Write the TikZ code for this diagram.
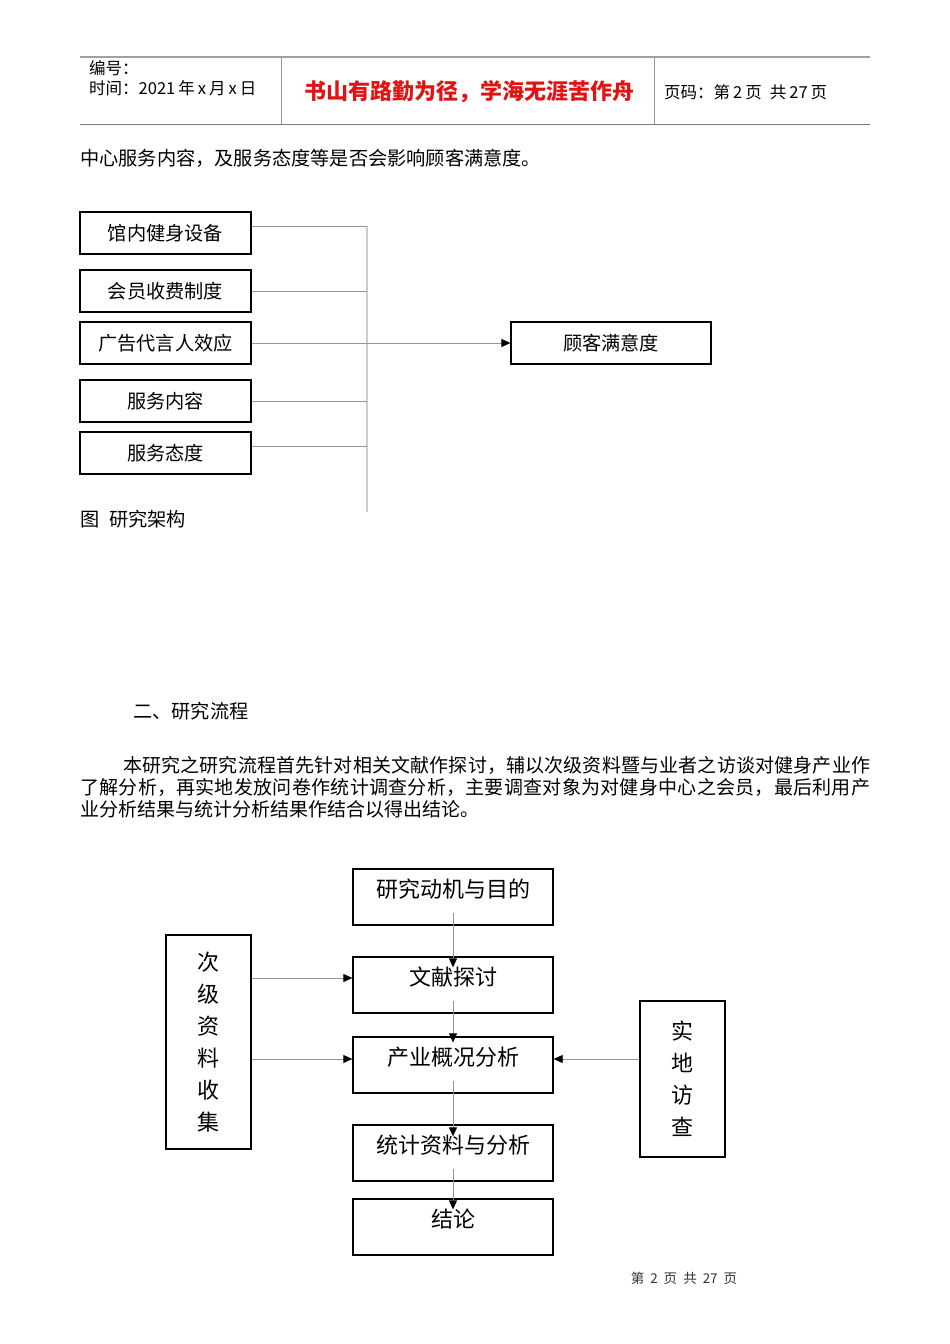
\documentclass[tikz,border=0pt]{standalone}
\usepackage{fontspec}
\setmainfont{Noto Sans CJK SC}
\usepackage{tikz}
\usetikzlibrary{arrows.meta, positioning}
\XeTeXlinebreaklocale "zh"
\XeTeXlinebreakskip=0pt plus 1pt
\definecolor{mottored}{RGB}{225,20,20}
\definecolor{wiregray}{RGB}{150,150,150}
\definecolor{busgray}{RGB}{205,205,205}
\definecolor{rulegray}{RGB}{120,120,120}

\tikzset{
  bodytext/.style={inner sep=0pt,font=\fontsize{19.2}{22}\selectfont},
  headtext/.style={inner sep=0pt,anchor=west,font=\fontsize{16.5}{18}\selectfont},
  factorbox/.style={rectangle,draw=black,line width=1.3pt,minimum width=171pt,minimum height=42pt,inner sep=0pt,font=\fontsize{19.2}{22}\selectfont},
  flowbox/.style={rectangle,draw=black,line width=1.3pt,minimum width=200pt,minimum height=56pt,inner sep=0pt,text height=11pt,text depth=11pt,font=\fontsize{22}{26}\selectfont},
  sidebox/.style={rectangle,draw=black,line width=1.3pt,minimum width=85pt,inner sep=0pt,align=center,font=\fontsize{22}{32}\selectfont},
  wire/.style={draw=wiregray,line width=0.8pt},
  arrowwire/.style={wire,-{Triangle[length=9pt,width=8pt,color=black]}}
}

\begin{document}
\begin{tikzpicture}[x=1pt,y=-1pt]
    \useasboundingbox (0,0) rectangle (950,1344);

    % Kopfzeile
    \draw[line width=1.6pt,rulegray!70] (80,57) -- (870,57);
    \draw[line width=1pt,rulegray] (80,124) -- (870,124);
    \draw[line width=0.8pt,wiregray] (281,57) -- (281,124);
    \draw[line width=0.8pt,wiregray] (654,57) -- (654,124);
    \node[headtext] (serial) at (89,68) {编号：};
    \node[headtext] (date) at (89,88) {时间：2021\hspace{3pt}年\hspace{3pt}x\hspace{3pt}月\hspace{3pt}x\hspace{3pt}日};
    \node[inner sep=0pt,font=\fontsize{22}{24}\selectfont\bfseries,text=mottored] (motto) at (469,92) {书山有路勤为径，学海无涯苦作舟};
    \node[headtext] (pageno) at (664,92) {页码：第\hspace{3pt}2\hspace{3pt}页\hspace{8pt}共\hspace{3pt}27\hspace{3pt}页};

    \node[bodytext,anchor=west] (intro) at (80,158) {中心服务内容，及服务态度等是否会影响顾客满意度。};

    % Forschungsrahmen
    \node[factorbox] (equip) at (165.5,233) {馆内健身设备};
    \node[factorbox] (fee) at (165.5,291) {会员收费制度};
    \node[factorbox] (spokes) at (165.5,343) {广告代言人效应};
    \node[factorbox] (service) at (165.5,401) {服务内容};
    \node[factorbox] (attitude) at (165.5,453) {服务态度};
    \node[factorbox,minimum width=200pt] (satisf) at (611,343) {顾客满意度};

    \coordinate (bustop) at (367,226);
    \coordinate (busend) at (367,512);
    \draw[busgray,line width=1.4pt] (bustop) -- (busend);
    \draw[wire] ([yshift=7pt]equip.east) -- ([yshift=7pt]equip.east -| bustop);
    \draw[wire] (fee.east) -- (fee.east -| bustop);
    \draw[wire] (service.east) -- (service.east -| bustop);
    \draw[wire] ([yshift=7pt]attitude.east) -- ([yshift=7pt]attitude.east -| bustop);
    \draw[arrowwire] (spokes) -- (satisf);

    \node[bodytext,anchor=west] (caption) at (80,519) {图\hspace{10pt}研究架构};

    % Abschnitt zwei
    \node[bodytext,anchor=west] (section) at (133,711) {二、研究流程};
    \node[bodytext,font=\fontsize{19}{22}\selectfont,anchor=north west,text width=790pt,align=justify] (para) at (80,756)
      {\hspace*{43pt}本研究之研究流程首先针对相关文献作探讨，辅以次级资料暨与业者之访谈对健身产业作\linebreak
       了解分析，再实地发放问卷作统计调查分析，主要调查对象为对健身中心之会员，最后利用产\linebreak
       业分析结果与统计分析结果作结合以得出结论。};

    % Forschungsablauf
    \node[flowbox] (motive) at (453,897) {研究动机与目的};
    \node[flowbox] (review) at (453,985) {文献探讨};
    \node[flowbox] (industry) at (453,1065) {产业概况分析};
    \node[flowbox] (stats) at (453,1153) {统计资料与分析};
    \node[flowbox] (result) at (453,1227) {结论};
    \node[sidebox,minimum height=214pt] (second) at (208.5,1042) {次\\级\\资\\料\\收\\集};
    \node[sidebox,minimum height=156pt] (field) at (682.5,1079) {实\\地\\访\\查};

    \draw[arrowwire] ([yshift=13pt]motive.south) -- ([yshift=-11pt]review.north);
    \draw[arrowwire] ([yshift=13pt]review.south) -- ([yshift=-6pt]industry.north);
    \draw[arrowwire] ([yshift=13pt]industry.south) -- ([yshift=-12pt]stats.north);
    \draw[arrowwire] ([yshift=13pt]stats.south) -- ([yshift=-11pt]result.north);
    \draw[arrowwire] ([yshift=7pt]review.west -| second.east) -- ([yshift=7pt]review.west);
    \draw[arrowwire] ([yshift=6pt]industry.west -| second.east) -- ([yshift=6pt]industry.west);
    \draw[arrowwire] ([yshift=6pt]industry.east -| field.west) -- ([yshift=6pt]industry.east);

    % Fusszeile
    \node[inner sep=0pt,font=\fontsize{13.5}{15}\selectfont,text=black!80] (footer) at (684,1278) {第\hspace{6pt}2\hspace{6pt}页\hspace{6pt}共\hspace{6pt}27\hspace{6pt}页};
\end{tikzpicture}
\end{document}
